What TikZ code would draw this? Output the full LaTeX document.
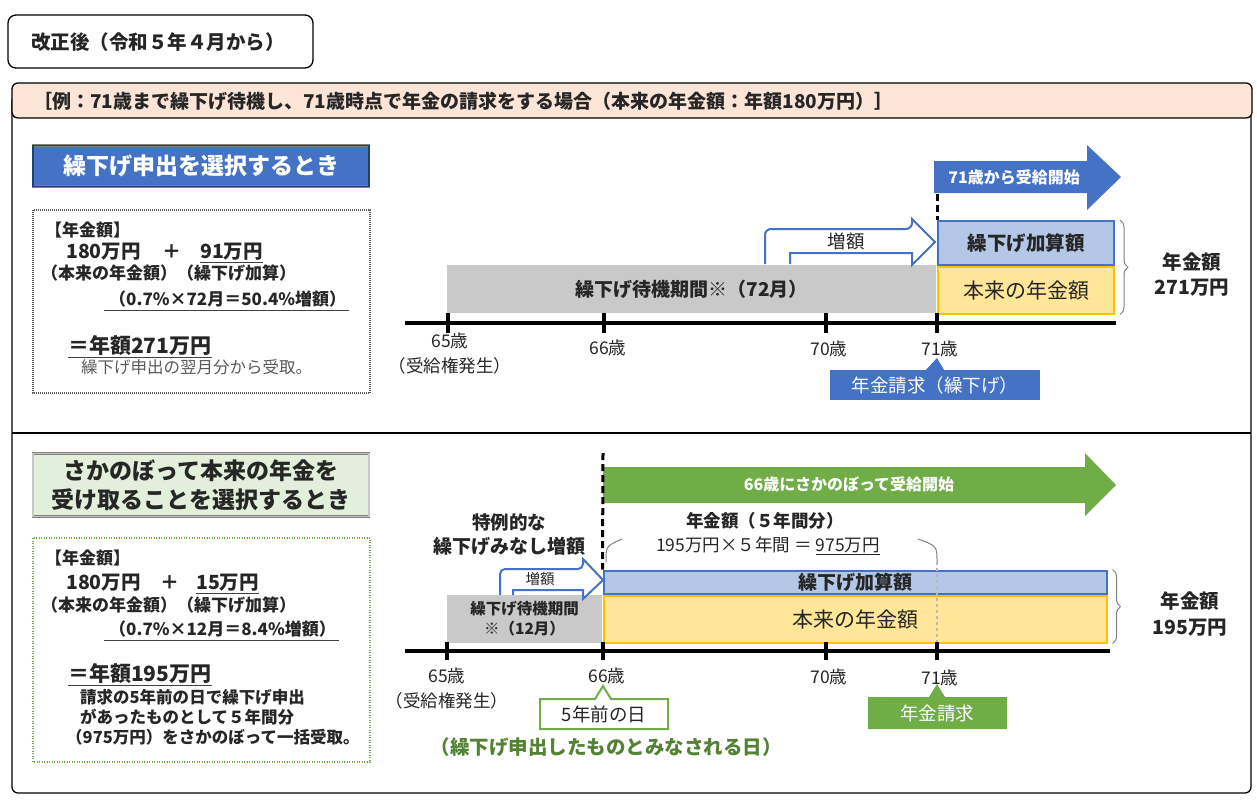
\documentclass[tikz,border=0pt]{standalone}
\usepackage{fontspec}
\setmainfont{Noto Sans CJK JP}
\usetikzlibrary{positioning,decorations.pathreplacing}

\definecolor{hdrblue}{HTML}{4472C4}
\definecolor{lightblue}{HTML}{B4C7E7}
\definecolor{paleyellow}{HTML}{FFE699}
\definecolor{goldline}{HTML}{FFC000}
\definecolor{waitgray}{HTML}{C9C9C9}
\definecolor{peach}{HTML}{FCE4D6}
\definecolor{leafgreen}{HTML}{70AD47}
\definecolor{palegreen}{HTML}{E2EFDA}
\definecolor{darkgreen}{HTML}{548235}
\newcommand\fsz[1]{\fontsize{#1}{#1}\selectfont}

\begin{document}
\begin{tikzpicture}
[x=1pt, y=-1pt,
txt/.style={font=\fsz{#1}, inner sep=0pt, text=black!85},
btxt/.style={font=\fsz{#1}\bfseries, inner sep=0pt, text=black!85},
axisline/.style={line width=4.5pt},
tickmark/.style={line width=3.5pt},
bentarrow/.style={draw=hdrblue, line width=2pt, fill=white, line join=miter},
splitline/.style={line width=3pt, dash pattern=on 7pt off 4pt},
sidebrace/.style={decorate, decoration={brace, amplitude=8pt}, draw=gray, line width=1pt},
uline/.style={line width=1pt, draw=black!75}]
  \useasboundingbox (0,0) rectangle (1257,804);

  % heading and example banner
  \draw [rounded corners=8pt, line width=1.3pt] (8,15) rectangle (313,68);
  \node [btxt=19.5, anchor=west] (revised) at (31,42) {改正後（令和５年４月から）};
  \draw [line width=1.3pt, rounded corners=6pt] (12,95) rectangle (1251,793);
  \draw [line width=1.3pt] (12,433) -- (1251,433);
  \draw [line width=1.3pt, rounded corners=6pt, fill=peach] (12,83) rectangle (1252,118);
  \node [btxt=19, anchor=west] (example) at (33,101) {［例：71歳まで繰下げ待機し、71歳時点で年金の請求をする場合（本来の年金額：年額180万円）］};

  % upper case: deferral
  \node [btxt=23, text=white, fill=hdrblue, draw=gray, double=hdrblue!55!black, double distance=1.6pt, minimum width=336pt, minimum height=41pt] (titleA) at (201,166) {繰下げ申出を選択するとき};
  \draw [draw=black!65, line width=1.1pt, dash pattern=on 1pt off 1pt] (33,210) rectangle (370,393);
  \node [btxt=17, anchor=west] (amtA) at (45,230) {【年金額】};
  \node [btxt=19.5, anchor=west] (baseA) at (66,252) {180万円};
  \node [btxt=19] (plusA) at (172,252) {＋};
  \node [btxt=19.5, anchor=west] (addA) at (200,252) {91万円};
  \draw [uline] ([yshift=-2pt]addA.south west) -- ([yshift=-2pt]addA.south east);
  \node [btxt=17, anchor=west] (noteA) at (41,273) {（本来の年金額）（繰下げ加算）};
  \node [btxt=17, anchor=west] (rateA) at (109,299) {（0.7\%×72月＝50.4\%増額）};
  \draw [uline] ([xshift=-5pt,yshift=-3pt]rateA.south west) -- ([xshift=3pt,yshift=-3pt]rateA.south east);
  \node [btxt=21, anchor=west] (totalA) at (68,345) {＝年額271万円};
  \draw [uline, line width=1.3pt] ([yshift=-2pt]totalA.south west) -- ([yshift=-2pt]totalA.south east);
  \node [txt=16.5, anchor=west, text=black!65] (whenA) at (81,367) {繰下げ申出の翌月分から受取。};

  \fill [hdrblue] (934,161) -- (1087,161) -- (1087,145) -- (1121,177) -- (1087,210) -- (1087,193) -- (934,193) -- cycle;
  \node [btxt=16, text=white] (startA) at (1014,177) {71歳から受給開始};
  \node [fill=waitgray, minimum width=489pt, minimum height=48pt, inner sep=0pt, text=black!85, font=\fsz{19}\bfseries] (waitA) at (691.5,289) {繰下げ待機期間※（72月）};
  \node [txt=21, fill=paleyellow, draw=goldline, line width=2pt, minimum width=176pt, minimum height=47pt] (regA) at (1026,290) {本来の年金額};
  \node [btxt=19.5, fill=lightblue, draw=hdrblue, line width=2pt, minimum width=176pt, minimum height=44pt] (extraA) at (1026,243) {繰下げ加算額};
  \draw [bentarrow] (765,264) -- (765,235) [rounded corners=6pt] -- (765,229) -- (912,229) [sharp corners] -- (912,219) -- (935,242) -- (912,265) -- (912,253) -- (790,253) -- (790,264);
  \node [txt=18.5] (upA) at (846,241) {増額};
  \draw [splitline] (937,194) -- (extraA.north west);
  \draw [sidebrace] ([xshift=5pt]extraA.north east) -- ([xshift=5pt]regA.south east);
  \node [btxt=19.5] (sumA) at (1192,262) {年金額};
  \node [btxt=19.5] (sumvA) at (1192,288) {271万円};

  \draw [axisline] (405,323) -- (1116,323);
  \foreach \x in {448,604,826,937}
    \draw [tickmark] (\x,313) -- (\x,333);
  \node [txt=17.5] (a65) at (450,341) {65歳};
  \node [txt=17.5, below=8pt of a65] (a65b) {（受給権発生）};
  \node [txt=17.5] (a66) at (608,348) {66歳};
  \node [txt=17.5] (a70) at (829,349) {70歳};
  \node [txt=17.5] (a71) at (940,349) {71歳};
  \node [txt=18.5, text=white, fill=hdrblue, minimum width=210pt, minimum height=30pt] (claimA) at (935,385) {年金請求（繰下げ）};
  \fill [hdrblue] ([xshift=-9pt]claimA.north) -- (937,358) -- ([xshift=9pt]claimA.north) -- cycle;

  % lower case: lump sum going back
  \node [font=\fontsize{23}{29}\selectfont\bfseries, text=black!85, align=center, fill=palegreen, draw=gray, double=gray!45, double distance=1.6pt, minimum width=336pt, minimum height=63pt, inner sep=0pt] (titleB) at (201,485) {さかのぼって本来の年金を\\受け取ることを選択するとき};
  \draw [draw=leafgreen, line width=1.1pt, dash pattern=on 1pt off 1.5pt] (33,538) rectangle (370,762);
  \node [btxt=17, anchor=west] (amtB) at (45,558) {【年金額】};
  \node [btxt=19.5, anchor=west] (baseB) at (66,583) {180万円};
  \node [btxt=19] (plusB) at (170,583) {＋};
  \node [btxt=19.5, anchor=west] (addB) at (196,583) {15万円};
  \draw [uline] ([yshift=-2pt]addB.south west) -- ([yshift=-2pt]addB.south east);
  \node [btxt=17, anchor=west] (noteB) at (41,605) {（本来の年金額）（繰下げ加算）};
  \node [btxt=17, anchor=west] (rateB) at (109,629) {（0.7\%×12月＝8.4\%増額）};
  \draw [uline] ([xshift=-5pt,yshift=-3pt]rateB.south west) -- ([xshift=3pt,yshift=-3pt]rateB.south east);
  \node [btxt=21, anchor=west] (totalB) at (68,673) {＝年額195万円};
  \draw [uline, line width=1.3pt] ([yshift=-2pt]totalB.south west) -- ([yshift=-2pt]totalB.south east);
  \node [btxt=16.5, anchor=west] (whenB1) at (80,697) {請求の5年前の日で繰下げ申出};
  \node [btxt=16.5, anchor=west] (whenB2) at (80,717) {があったものとして５年間分};
  \node [btxt=16.5, anchor=west] (whenB3) at (66,737) {（975万円）をさかのぼって一括受取。};

  \fill [leafgreen] (603,467) -- (1085,467) -- (1085,453) -- (1116,485) -- (1085,516) -- (1085,503) -- (603,503) -- cycle;
  \node [btxt=16, text=white] (startB) at (849,484) {66歳にさかのぼって受給開始};
  \node [btxt=18.5] (specB1) at (509,522) {特例的な};
  \node [btxt=19] (specB2) at (509,546) {繰下げみなし増額};
  \node [btxt=17.5] (fiveB1) at (765,521) {年金額（５年間分）};
  \node [txt=17.5] (fiveB2) at (768,546) {195万円×５年間 ＝ \underline{975万円}};
  \draw [gray, line width=1pt] (606,562) .. controls (606,546) .. (622,539);
  \draw [gray, line width=1pt] (918,539) .. controls (937,546) .. (937,562);

  \node [fill=waitgray, minimum width=155pt, minimum height=48pt, align=center, inner sep=0pt, text=black!85, font=\fontsize{15.5}{20}\selectfont\bfseries] (waitB) at (524.5,619) {繰下げ待機期間\\※（12月）};
  \node [txt=21, fill=paleyellow, draw=goldline, line width=2pt, minimum width=503pt, minimum height=47pt] (regB) at (855,619) {本来の年金額};
  \node [btxt=19, fill=lightblue, draw=hdrblue, line width=2pt, minimum width=503pt, minimum height=23pt] (extraB) at (855,582) {繰下げ加算額};
  \draw [gray!55, line width=1.2pt, dashed] (937,562) -- (937,660);
  \draw [bentarrow] (500,595) -- (500,576) [rounded corners=5pt] -- (500,569) -- (583,569) [sharp corners] -- (583,559) -- (603,580) -- (583,599) -- (583,590) -- (513,590) -- (513,595);
  \node [txt=14.5] (upB) at (540,579) {増額};
  \draw [splitline] (603,453) -- (extraB.north west);
  \draw [sidebrace] ([xshift=5pt]extraB.north east) -- ([xshift=5pt]regB.south east);
  \node [btxt=19.5] (sumB) at (1190,601) {年金額};
  \node [btxt=19.5] (sumvB) at (1190,628) {195万円};

  \draw [axisline] (405,651) -- (1110,651);
  \foreach \x in {447,603,826,937}
    \draw [tickmark] (\x,642) -- (\x,660);
  \node [txt=17.5] (b65) at (447,676) {65歳};
  \node [txt=17.5, below=8pt of b65] (b65b) {（受給権発生）};
  \node [txt=17.5] (b66) at (607,676) {66歳};
  \node [txt=17.5] (b70) at (829,677) {70歳};
  \node [txt=17.5] (b71) at (940,678) {71歳};
  \draw [draw=leafgreen, line width=2pt, fill=white] (540,699) -- (595,699) -- (603,686) -- (611,699) -- (668,699) -- (668,729) -- (540,729) -- cycle;
  \node [txt=18.5] (dayB) at (604,714) {5年前の日};
  \fill [leafgreen] (868,697) -- (929,697) -- (937,684) -- (945,697) -- (1007,697) -- (1007,729) -- (868,729) -- cycle;
  \node [txt=18.5, text=white] (claimB) at (937,713) {年金請求};
  \node [btxt=19.5, text=darkgreen] (deemB) at (606,747) {（繰下げ申出したものとみなされる日）};
\end{tikzpicture}
\end{document}
